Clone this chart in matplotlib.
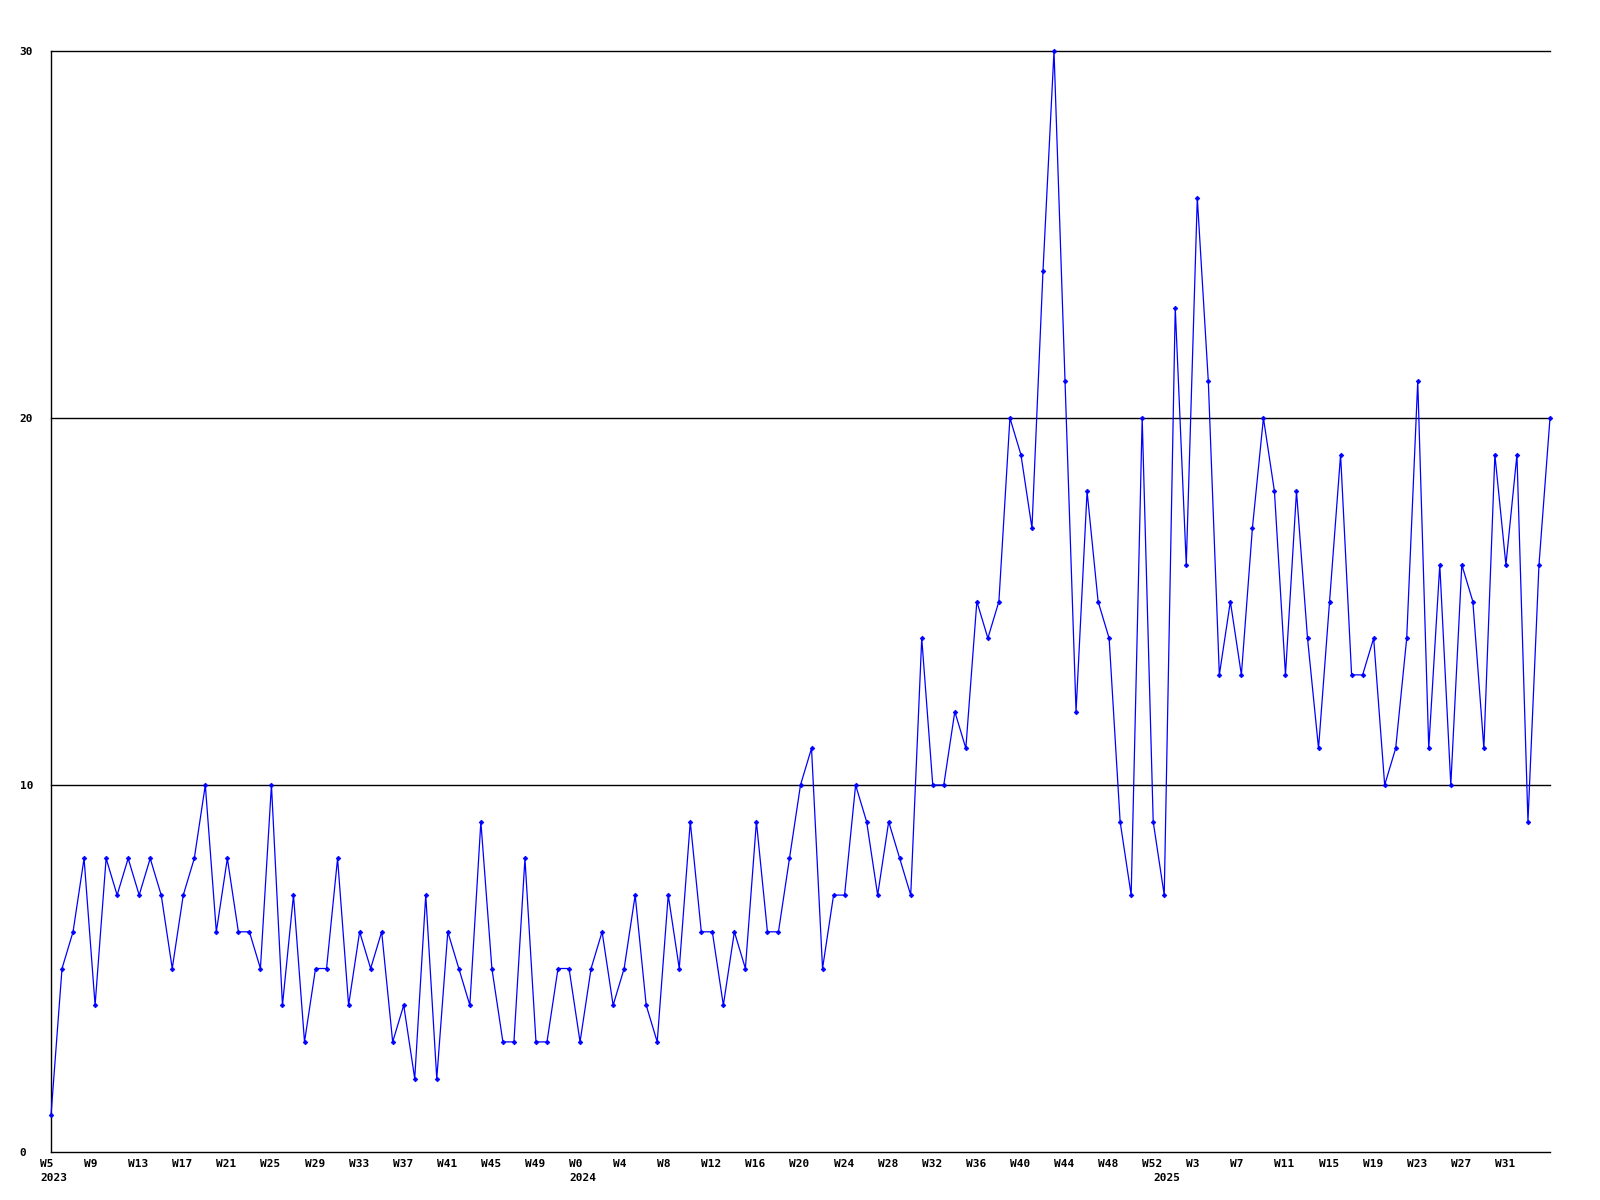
import matplotlib
matplotlib.use("Agg")
import matplotlib.pyplot as plt
import matplotlib.transforms as mtransforms

# weekly counts, 2023 W5 .. 2025 W35
values = [
    1, 5, 6, 8, 4, 8, 7, 8, 7, 8, 7, 5, 7, 8, 10, 6, 8, 6, 6, 5,
    10, 4, 7, 3, 5, 5, 8, 4, 6, 5, 6, 3, 4, 2, 7, 2, 6, 5, 4, 9,
    5, 3, 3, 8, 3, 3, 5, 5, 3, 5, 6, 4, 5, 7, 4, 3, 7, 5, 9, 6,
    6, 4, 6, 5, 9, 6, 6, 8, 10, 11, 5, 7, 7, 10, 9, 7, 9, 8, 7, 14,
    10, 10, 12, 11, 15, 14, 15, 20, 19, 17, 24, 30, 21, 12, 18, 15, 14, 9, 7, 20,
    9, 7, 23, 16, 26, 21, 13, 15, 13, 17, 20, 18, 13, 18, 14, 11, 15, 19, 13, 13,
    14, 10, 11, 14, 21, 11, 16, 10, 16, 15, 11, 19, 16, 19, 9, 16, 20,
]

week_labels = [
    "W5", "W9", "W13", "W17", "W21", "W25", "W29", "W33", "W37", "W41", "W45", "W49",
    "W0", "W4", "W8", "W12", "W16", "W20", "W24", "W28", "W32", "W36", "W40", "W44",
    "W48", "W52",
    "W3", "W7", "W11", "W15", "W19", "W23", "W27", "W31",
]
week_pos = list(range(0, 4 * len(week_labels), 4))

years = ["2023", "2024", "2025"]
year_pos = [0, 48, 101]

x = list(range(len(values)))

fig = plt.figure(figsize=(16, 12), dpi=100)
ax = fig.add_axes([51 / 1600, 48 / 1200, 1499 / 1600, 1101 / 1200])

for yv in [10, 20, 30]:
    ax.axhline(yv, color="black", lw=1.0, zorder=1, clip_on=False)

ax.plot(x, values, color="#0000ff", lw=0.9, marker="D", markersize=2.4,
        markeredgewidth=0.5, zorder=3, clip_on=False)

ax.set_xlim(0, len(values) - 1)
ax.set_ylim(0, 30)

for side in ["top", "right"]:
    ax.spines[side].set_visible(False)
for side in ["left", "bottom"]:
    ax.spines[side].set_color("black")
    ax.spines[side].set_linewidth(1.0)

lab_font = dict(family="DejaVu Sans Mono", weight="bold", size=8)

ax.set_xticks([])
ax.set_yticks([0, 10, 20, 30])
ax.set_yticklabels(["0", "10", "20", "30"], **lab_font)
ax.tick_params(axis="y", length=0, pad=22.5)
for lab in ax.get_yticklabels():
    lab.set_horizontalalignment("left")

trans = mtransforms.blended_transform_factory(ax.transData, ax.transAxes)
for p, lab in zip(week_pos, week_labels):
    ax.text(p - 1, -0.006, lab, transform=trans, ha="left", va="top",
            clip_on=False, **lab_font)
for p, lab in zip(year_pos, years):
    ax.text(p - 1, -0.0195, lab, transform=trans, ha="left", va="top",
            clip_on=False, **lab_font)

fig.savefig("out.png", dpi=100)
